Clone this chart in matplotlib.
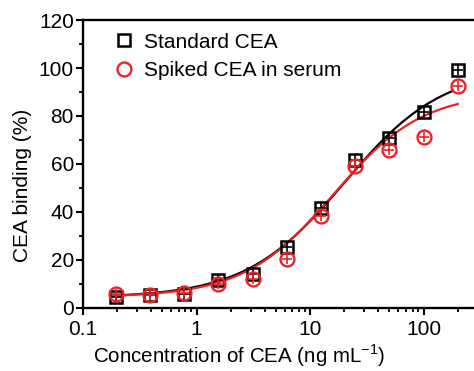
import numpy as np
import matplotlib
matplotlib.use("Agg")
import matplotlib.pyplot as plt
from matplotlib.ticker import MultipleLocator, FixedLocator, LogLocator, NullFormatter

plt.rcParams['font.family'] = ['Liberation Sans', 'DejaVu Sans']
plt.rcParams['mathtext.fontset'] = 'custom'
plt.rcParams['mathtext.rm'] = 'Liberation Sans'

# data
conc = [0.195, 0.39, 0.78, 1.56, 3.125, 6.25, 12.5, 25, 50, 100, 200]
standard = [4.5, 5.2, 5.8, 11.5, 14.0, 25.5, 41.5, 61.5, 71.0, 81.8, 99.3]
spiked = [5.8, 5.5, 6.3, 9.8, 12.0, 20.4, 38.5, 59.3, 66.0, 71.2, 92.3]

# 4PL fit parameters (bottom, top, x0, slope) estimated from the curves
fit_standard = (4.3, 100.0, 20.0, 1.0)
fit_spiked = (4.5, 90.0, 16.0, 1.1)

def logistic(x, a1, a2, x0, p):
    return a2 + (a1 - a2) / (1 + (x / x0) ** p)

red = '#ec2227'

fig = plt.figure(figsize=(4.74, 3.71), dpi=100)
ax = fig.add_axes([0.175, 0.17, 0.833, 0.776])

xs = np.logspace(np.log10(0.18), np.log10(180), 300)
ax.plot(xs, logistic(xs, *fit_standard), color='black', lw=1.6, zorder=2)
xr = np.logspace(np.log10(0.18), np.log10(200), 300)
ax.plot(xr, logistic(xr, *fit_spiked), color=red, lw=1.6, zorder=3)

ax.plot(conc, standard, 's', ms=8, mfc='none', mec='black', mew=1.8,
        zorder=4, label='Standard CEA')
ax.plot(conc, standard, '+', ms=6.5, mec='black', mew=1.2, zorder=4)
ax.plot(conc, spiked, 'o', ms=10, mfc='none', mec=red, mew=1.7,
        zorder=5, label='Spiked CEA in serum')
ax.plot(conc, spiked, '+', ms=7.5, mec=red, mew=1.2, zorder=5)

ax.set_xscale('log')
ax.set_xlim(0.1, 300)
ax.set_ylim(0, 120)
ax.xaxis.set_major_locator(FixedLocator([0.1, 1, 10, 100]))
ax.set_xticklabels(['0.1', '1', '10', '100'])
ax.xaxis.set_minor_locator(LogLocator(base=10, subs=np.arange(2, 10)))
ax.xaxis.set_minor_formatter(NullFormatter())
ax.yaxis.set_major_locator(MultipleLocator(20))
ax.yaxis.set_minor_locator(MultipleLocator(10))

for s in ['left', 'bottom', 'top']:
    ax.spines[s].set_linewidth(1.7)
ax.spines['right'].set_visible(False)
ax.tick_params(which='major', direction='out', length=5, width=1.5,
               labelsize=15, pad=1.5)
ax.tick_params(which='minor', direction='out', length=3, width=1.3)
ax.tick_params(axis='x', which='major', pad=4)

ax.set_xlabel('Concentration of CEA (ng mL$^{\\mathrm{-1}}$)', fontsize=14.8)
ax.xaxis.set_label_coords(0.397, -0.12)
ax.set_ylabel('CEA binding (%)', fontsize=15)
ax.yaxis.set_label_coords(-0.13, 0.427)

handles, labels = ax.get_legend_handles_labels()
ax.legend(handles, labels, loc='upper left', frameon=False, fontsize=15,
          handletextpad=0.35, borderaxespad=0.2, labelspacing=0.45,
          handlelength=1.2, bbox_to_anchor=(0.04, 1.0))

fig.savefig('out.png', dpi=100)
